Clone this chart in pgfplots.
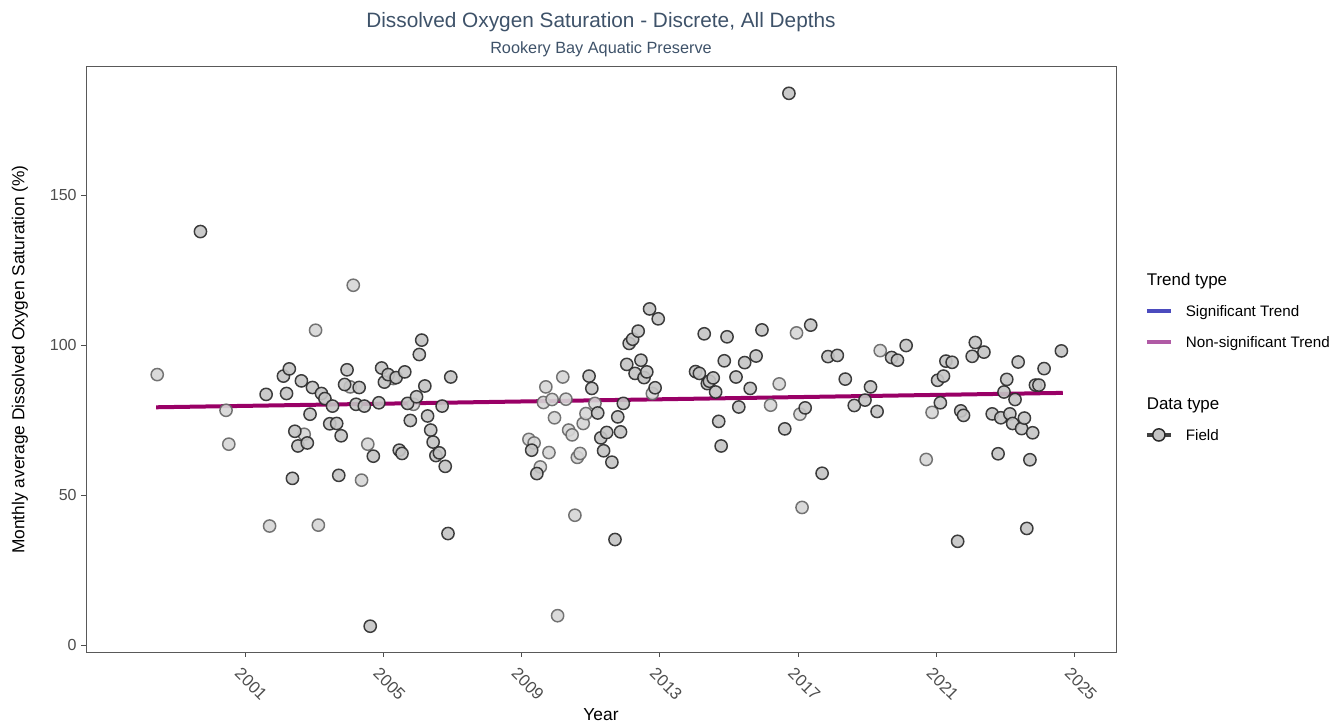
\documentclass[border=0pt]{standalone}
\usepackage{fontspec}
\setmainfont{Liberation Sans}
\usepackage{pgfplots}
\pgfplotsset{compat=1.18}
\usepackage{pgfplotstable}

\definecolor{titleblue}{HTML}{3E5269}
\definecolor{trend}{HTML}{990066}
\definecolor{sigblue}{HTML}{4B4BBE}
\definecolor{nonsig}{HTML}{B05AA5}
\definecolor{tickgrey}{HTML}{4D4D4D}
\definecolor{ptfill}{HTML}{C4C4C4}
\definecolor{ptdraw}{HTML}{2A2A2A}
\definecolor{ltfill}{HTML}{D6D6D6}
\definecolor{ltdraw}{HTML}{666666}

% monthly averages, darker markers
\pgfplotstableread{
year value
1999.71 137.9
2001.61 83.6
2002.11 89.7
2002.20 83.9
2002.28 92.1
2002.37 55.6
2002.44 71.3
2002.53 66.4
2002.63 88.1
2002.80 67.4
2002.88 77.0
2002.95 85.9
2003.21 83.9
2003.31 82.2
2003.45 73.8
2003.53 79.7
2003.65 73.9
2003.71 56.6
2003.78 69.8
2003.88 86.9
2003.95 91.8
2004.21 80.3
2004.30 85.9
2004.45 79.7
2004.62 6.3
2004.71 63.0
2004.87 80.8
2004.95 92.4
2005.03 87.7
2005.14 90.2
2005.37 89.2
2005.46 65.0
2005.54 63.9
2005.62 91.1
2005.70 80.6
2005.78 74.9
2005.96 82.8
2006.04 96.9
2006.11 101.7
2006.20 86.4
2006.28 76.4
2006.37 71.7
2006.44 67.7
2006.52 63.2
2006.62 64.1
2006.70 79.7
2006.79 59.6
2006.87 37.2
2006.95 89.4
2009.29 65.0
2009.44 57.2
2010.95 89.7
2011.03 85.6
2011.20 77.4
2011.29 69.1
2011.37 64.8
2011.46 70.9
2011.61 61.0
2011.70 35.2
2011.78 76.1
2011.86 71.1
2011.94 80.6
2012.04 93.6
2012.11 100.6
2012.21 102.0
2012.28 90.6
2012.37 104.7
2012.45 95.0
2012.54 89.2
2012.62 91.1
2012.70 112.1
2012.86 85.8
2012.95 108.8
2014.03 91.2
2014.14 90.6
2014.28 103.8
2014.37 87.2
2014.43 88.0
2014.54 89.1
2014.61 84.4
2014.70 74.6
2014.77 66.4
2014.86 94.8
2014.94 102.8
2015.20 89.4
2015.28 79.4
2015.45 94.2
2015.61 85.6
2015.78 96.4
2015.95 105.1
2016.61 72.1
2016.73 184.0
2017.20 79.1
2017.36 106.7
2017.69 57.3
2017.86 96.2
2018.13 96.6
2018.36 88.7
2018.62 79.9
2018.93 81.7
2019.09 86.1
2019.28 77.9
2019.70 95.9
2019.87 95.0
2020.12 99.9
2021.03 88.3
2021.11 80.8
2021.20 89.7
2021.27 94.7
2021.45 94.3
2021.61 34.6
2021.70 78.1
2021.78 76.6
2022.03 96.3
2022.12 100.9
2022.37 97.7
2022.61 77.1
2022.78 63.8
2022.86 75.8
2022.95 84.4
2023.03 88.6
2023.12 77.1
2023.20 73.9
2023.27 81.9
2023.36 94.4
2023.46 72.2
2023.54 75.7
2023.61 38.9
2023.70 61.8
2023.78 70.8
2023.86 86.7
2023.96 86.7
2024.11 92.2
2024.61 98.1
}\darkpts

% lighter markers
\pgfplotstableread{
year value
1998.46 90.2
2000.45 78.3
2000.53 67.0
2001.71 39.7
2002.71 70.3
2003.04 105.0
2003.12 40.0
2004.04 86.1
2004.13 120.0
2004.37 55.0
2004.55 67.0
2005.29 88.9
2005.87 80.3
2009.21 68.6
2009.36 67.4
2009.54 59.4
2009.63 80.9
2009.70 86.1
2009.79 64.2
2009.88 81.9
2009.95 75.8
2010.04 9.8
2010.19 89.4
2010.28 82.0
2010.36 71.7
2010.46 70.1
2010.54 43.3
2010.61 62.6
2010.69 63.9
2010.78 73.9
2010.86 77.2
2011.12 80.6
2012.78 83.9
2016.20 80.0
2016.45 87.1
2016.95 104.1
2017.05 77.0
2017.11 45.9
2019.37 98.2
2020.70 61.9
2020.87 77.6
}\lightpts

\begin{document}
\begin{tikzpicture}
\begin{axis}[
  name=ax,
  at={(0,0)}, anchor=south west,
  scale only axis, width=772.5pt, height=439pt,
  xmin=1996.40, xmax=2026.19,
  ymin=-2.4, ymax=192.8,
  xtick={2001,2005,2009,2013,2017,2021,2025},
  ytick={0,50,100,150},
  xtick pos=lower, ytick pos=left,
  /pgf/number format/1000 sep={},
  /pgf/number format/assume math mode=true,
  tick align=outside,
  major tick length=3.5pt,
  tick style={draw=tickgrey, line width=0.8pt},
  axis line style={draw=black!65, line width=0.7pt},
  xticklabel style={rotate=-45, anchor=north west, inner sep=0pt,
    font=\fontsize{12.5}{14}\selectfont, text=tickgrey, xshift=3.5pt, yshift=-6.5pt},
  yticklabel style={font=\fontsize{12}{14}\selectfont, text=tickgrey},
  xlabel={Year},
  ylabel={Monthly average Dissolved Oxygen Saturation (\%)},
  every axis x label/.style={at={(axis description cs:0.5,0)}, yshift=-47pt,
    anchor=center, font=\fontsize{13}{15}\selectfont},
  every axis y label/.style={at={(axis description cs:0,0.5)}, xshift=-49.5pt,
    rotate=90, anchor=center, font=\fontsize{13}{15}\selectfont},
  legend cell align=left,
  legend style={at={(1.028,0.6498)}, anchor=north west, draw=none, fill=none,
    inner sep=0pt, outer sep=0pt, row sep=11.25pt, column sep=9.75pt,
    nodes={inner sep=0pt, text height=10pt, text depth=2pt,
      font=\fontsize{11.4}{13}\selectfont}},
]
\addplot[only marks, mark=*, mark size=4.6pt, forget plot,
  mark options={fill=ltfill, draw=ltdraw, line width=1.1pt, opacity=0.9}]
  table[x=year, y=value] {\lightpts};
\addplot[only marks, mark=*, mark size=4.6pt, forget plot,
  mark options={fill=ptfill, draw=ptdraw, line width=1.1pt, opacity=0.9}]
  table[x=year, y=value] {\darkpts};
\addplot[trend, line width=3pt, forget plot]
  coordinates {(1998.43,79.3) (2024.65,84.1)};

\addlegendimage{empty legend}
\addlegendentry{\hspace*{-29.25pt}\fontsize{12.7}{15}\selectfont Trend type}
\addlegendimage{legend image code/.code={\draw[sigblue, line width=3pt] (0pt,0pt) -- (18pt,0pt);}}
\addlegendentry{Significant Trend}
\addlegendimage{legend image code/.code={\draw[nonsig, line width=3pt] (0pt,0pt) -- (18pt,0pt);}}
\addlegendentry{Non-significant Trend}
\addlegendimage{empty legend}
\addlegendentry{}
\addlegendimage{empty legend}
\addlegendentry{\hspace*{-29.25pt}\fontsize{12.7}{15}\selectfont Data type}
\addlegendimage{legend image code/.code={
  \draw[black!75, line width=2.5pt] (0pt,0pt) -- (18pt,0pt);
  \draw[fill=ptfill, draw=ptdraw, line width=1.1pt] (9pt,0pt) circle (4.6pt);}}
\addlegendentry{Field}
\end{axis}
\node[anchor=base, font=\fontsize{15.6}{18}\selectfont, text=titleblue]
  at ([yshift=29.5pt]ax.north) {Dissolved Oxygen Saturation - Discrete, All Depths};
\node[anchor=base, font=\fontsize{12.2}{14}\selectfont, text=titleblue]
  at ([yshift=10pt]ax.north) {Rookery Bay Aquatic Preserve};
\pgfresetboundingbox
\useasboundingbox (-64.5pt,-55.3pt) rectangle (935.25pt,489.2pt);
\end{tikzpicture}
\end{document}
